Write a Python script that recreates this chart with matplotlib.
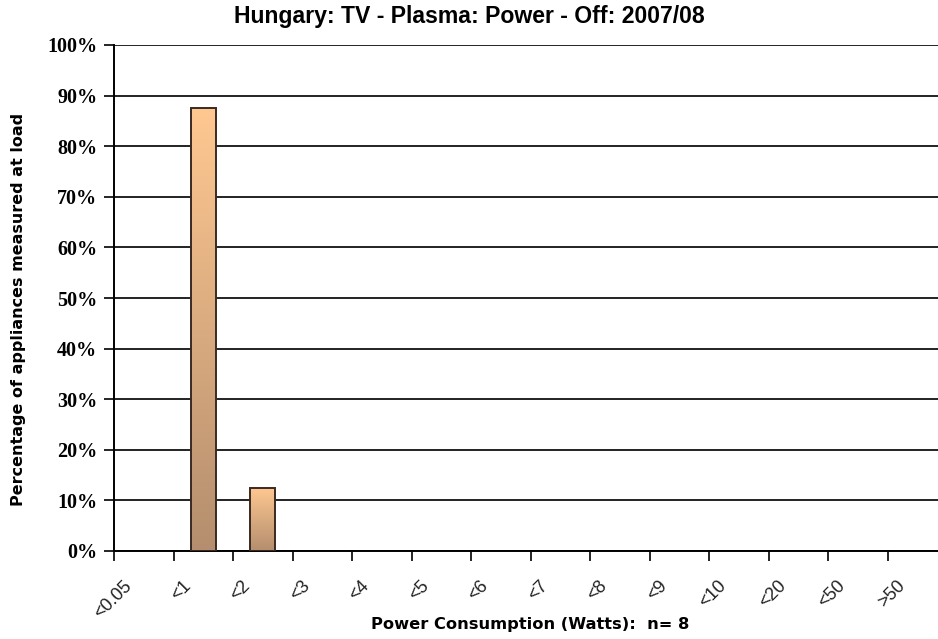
import numpy as np
import matplotlib
matplotlib.use("Agg")
import matplotlib.pyplot as plt
from matplotlib.ticker import FixedLocator, FuncFormatter
from matplotlib.colors import LinearSegmentedColormap
import matplotlib.transforms as mtransforms

categories = ["<0.05", "<1", "<2", "<3", "<4", "<5", "<6", "<7", "<8", "<9",
              "<10", "<20", "<50", ">50"]
values = [0.0, 0.875, 0.125, 0, 0, 0, 0, 0, 0, 0, 0, 0, 0, 0]
title = "Hungary: TV - Plasma: Power - Off: 2007/08"
xlabel = "Power Consumption (Watts):  n= 8"
ylabel = "Percentage of appliances measured at load"

W, H = 938, 639
fig = plt.figure(figsize=(W / 100, H / 100), dpi=100)
fig.patch.set_facecolor("white")

left, right, top, bottom = 114, 947, 45, 551
ax = fig.add_axes([left / W, (H - bottom) / H, (right - left) / W, (bottom - top) / H])
ax.set_facecolor("white")

x = np.arange(len(categories))
bars = ax.bar(x, values, width=0.42, facecolor="none", edgecolor="#3a2a20",
              linewidth=1.4, zorder=3)

cmap = LinearSegmentedColormap.from_list("peach", ["#b48e6e", "#ffc891"])
grad = np.linspace(0, 1, 256).reshape(-1, 1)
for b, v in zip(bars, values):
    if v <= 0:
        b.set_visible(False)
        continue
    x0 = b.get_x()
    x1 = x0 + b.get_width()
    im = ax.imshow(grad, extent=[x0, x1, 0, v], origin="lower", aspect="auto",
                   cmap=cmap, zorder=2.5, interpolation="bilinear")
    im.set_clip_path(b)

ax.set_xlim(-0.5, len(categories) - 0.5)
ax.set_ylim(0, 1.0)

# y axis
yt = np.linspace(0, 1, 11)
ax.set_yticks(yt)
ax.yaxis.set_major_formatter(FuncFormatter(lambda v, p: f"{int(round(v * 100))}%"))
ax.tick_params(axis="y", direction="out", length=7, width=1.2, pad=5,
               labelsize=14.5, colors="black")
for lab in ax.get_yticklabels():
    lab.set_fontfamily("Liberation Serif")
    lab.set_fontweight("bold")
ax.yaxis.grid(True, color="#222222", linewidth=1.4, zorder=1)
ax.set_axisbelow(True)

# x axis: ticks between categories, labels at centers
ax.xaxis.set_major_locator(FixedLocator(np.arange(len(categories) + 1) - 0.5))
ax.xaxis.set_minor_locator(FixedLocator(x))
ax.xaxis.set_major_formatter(FuncFormatter(lambda v, p: ""))
ax.set_xticklabels(categories, minor=True)
ax.tick_params(axis="x", which="major", direction="out", length=7, width=1.2)
ax.tick_params(axis="x", which="minor", length=0, pad=19, labelsize=13)
offset = mtransforms.ScaledTranslation(-9 / 100, 0, fig.dpi_scale_trans)
for lab in ax.get_xticklabels(minor=True):
    lab.set_rotation(45)
    lab.set_ha("right")
    lab.set_va("top")
    lab.set_fontfamily("Liberation Sans")
    lab.set_color("#222222")
    lab.set_transform(lab.get_transform() + offset)

for s in ["top", "right"]:
    ax.spines[s].set_visible(False)
ax.spines["left"].set_linewidth(1.4)
ax.spines["bottom"].set_linewidth(1.4)
ax.spines["left"].set_zorder(4)

fig.text(469 / W, 1 - 17 / H, title, ha="center", va="center",
         fontsize=16.6, fontweight="bold", family="Liberation Sans")
fig.text(530 / W, 1 - 624 / H, xlabel, ha="center", va="center",
         fontsize=11.7, fontweight="bold", family="DejaVu Sans")
fig.text(18.5 / W, 1 - 309 / H, ylabel, ha="center", va="center", rotation=90,
         fontsize=11.5, fontweight="bold", family="DejaVu Sans")

fig.savefig("out.png", dpi=100, facecolor="white")
